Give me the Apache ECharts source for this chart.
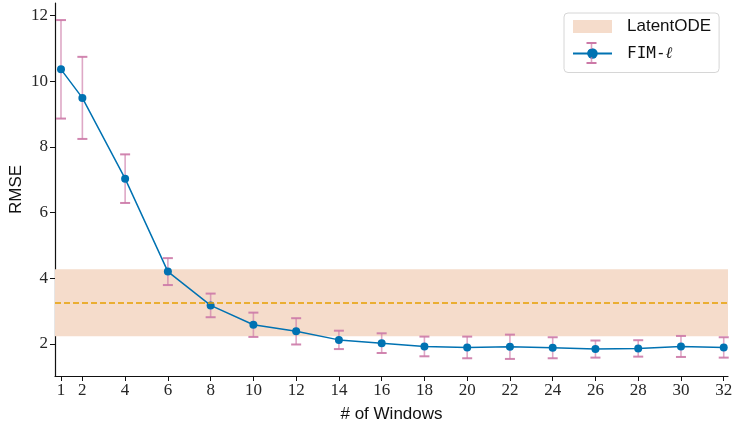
<!DOCTYPE html>
<html>
<head>
<meta charset="utf-8">
<script src="https://cdn.jsdelivr.net/npm/echarts@6/dist/echarts.min.js"></script>
<style>
html,body{margin:0;padding:0;background:#fff;}
#chart{width:733px;height:423px;}
</style>
</head>
<body>
<div id="chart"></div>
<script>
// ---- data ----
const windows = [1, 2, 4, 6, 8, 10, 12, 14, 16, 18, 20, 22, 24, 26, 28, 30, 32];
const fimMean = [10.36, 9.49, 7.03, 4.20, 3.17, 2.58, 2.38, 2.12, 2.02, 1.92, 1.89, 1.91, 1.88, 1.84, 1.86, 1.92, 1.89];
const fimStd  = [1.50, 1.25, 0.74, 0.41, 0.36, 0.37, 0.40, 0.28, 0.30, 0.30, 0.33, 0.37, 0.32, 0.26, 0.25, 0.32, 0.31];
const latentMean = 3.25;
const latentStd = 1.02;
const xTicks = [1, 2, 4, 6, 8, 10, 12, 14, 16, 18, 20, 22, 24, 26, 28, 30, 32];
const yTicks = [2, 4, 6, 8, 10, 12];
const seriesNames = ['LatentODE', 'FIM-\u2113'];

const blue = '#0072B2';
const pink = '#CC79A7';
const peach = '#F5DCCB';
const orange = '#E69F00';

const lineData = windows.map((w, i) => [w, fimMean[i]]);
const errData = windows.map((w, i) => [w, fimMean[i] - fimStd[i], fimMean[i] + fimStd[i]]);

const chart = echarts.init(document.getElementById('chart'), null, {renderer: 'canvas'});

const tickFont = {fontFamily: 'Liberation Serif', fontSize: 17, color: '#262626'};

chart.setOption({
  animation: false,
  backgroundColor: '#fff',
  grid: {left: 55, right: 5, top: 3, bottom: 47, containLabel: false, outerBoundsMode: 'none'},
  xAxis: {
    type: 'value', min: 0.72, max: 32.2,
    name: '# of Windows', nameLocation: 'middle', nameGap: 30, nameMoveOverlap: false,
    nameTextStyle: {fontFamily: 'Liberation Sans', fontSize: 17, color: '#111'},
    axisLine: {show: true, onZero: false, lineStyle: {color: '#111', width: 1.2}},
    axisTick: {show: true, length: 5, lineStyle: {color: '#111', width: 1}, customValues: xTicks},
    axisLabel: Object.assign({margin: 6, customValues: xTicks}, tickFont),
    splitLine: {show: false}
  },
  yAxis: {
    type: 'value', min: 1.02, max: 12.38,
    name: 'RMSE', nameLocation: 'middle', nameGap: 30, nameRotate: 90, nameMoveOverlap: false,
    nameTextStyle: {fontFamily: 'Liberation Sans', fontSize: 17, color: '#111'},
    axisLine: {show: true, onZero: false, lineStyle: {color: '#111', width: 1.2}},
    axisTick: {show: true, length: 5, lineStyle: {color: '#111', width: 1}, customValues: yTicks},
    axisLabel: Object.assign({margin: 7, customValues: yTicks}, tickFont),
    splitLine: {show: false}
  },
  legend: {
    orient: 'vertical', left: 564, top: 13,
    backgroundColor: '#fff', borderColor: '#d6d6d6', borderWidth: 1, borderRadius: 4,
    padding: [5, 8, 11, 8], itemGap: 10.5, itemWidth: 39, itemHeight: 13,
    selectedMode: false,
    data: [
      {name: seriesNames[0], icon: 'rect', itemStyle: {color: peach}},
      {name: seriesNames[1]}
    ],
    formatter: function (name) {
      if (name === seriesNames[1]) return '{m|FIM-}{l|\u2113}';
      return '{s|' + name + '}';
    },
    textStyle: {
      padding: [0, 0, 0, 10],
      rich: {
        s: {fontFamily: 'Liberation Sans', fontSize: 17, color: '#111'},
        m: {fontFamily: 'DejaVu Sans Mono', fontSize: 16, color: '#111'},
        l: {fontFamily: 'DejaVu Serif', fontStyle: 'italic', fontSize: 16, color: '#111'}
      }
    }
  },
  series: [
    {
      name: seriesNames[0], type: 'custom', data: [],
      itemStyle: {color: peach},
      renderItem: function () { return null; }
    },
    {
      name: 'errorbars', type: 'custom', z: 2,
      data: errData,
      encode: {x: 0, y: [1, 2]},
      renderItem: function (params, api) {
        const x = api.value(0);
        const top = api.coord([x, api.value(2)]);
        const bot = api.coord([x, api.value(1)]);
        const hw = 5;
        const st = {stroke: pink, lineWidth: 2, opacity: 0.9};
        return {
          type: 'group',
          children: [
            {type: 'line', shape: {x1: top[0], y1: top[1], x2: bot[0], y2: bot[1]}, style: {stroke: pink, lineWidth: 1.6, opacity: 0.65}},
            {type: 'line', shape: {x1: top[0] - hw, y1: top[1], x2: top[0] + hw, y2: top[1]}, style: st},
            {type: 'line', shape: {x1: bot[0] - hw, y1: bot[1], x2: bot[0] + hw, y2: bot[1]}, style: st}
          ]
        };
      },
      silent: true
    },
    {
      name: seriesNames[1], type: 'line', z: 3,
      data: lineData,
      symbol: 'circle', symbolSize: 8,
      lineStyle: {color: blue, width: 1.5},
      itemStyle: {color: blue},
      markArea: {
        silent: true,
        itemStyle: {color: peach},
        data: [[{yAxis: latentMean - latentStd}, {yAxis: latentMean + latentStd}]]
      },
      markLine: {
        silent: true, symbol: 'none', label: {show: false},
        lineStyle: {color: orange, type: [6, 3], width: 1.5},
        data: [{yAxis: latentMean}]
      }
    }
  ],
  graphic: {
    elements: [
      {type: 'line', z: 100, shape: {x1: 591.5, y1: 43, x2: 591.5, y2: 63}, style: {stroke: pink, lineWidth: 1.6, opacity: 0.7}},
      {type: 'line', z: 100, shape: {x1: 586.5, y1: 43, x2: 596.5, y2: 43}, style: {stroke: pink, lineWidth: 2}},
      {type: 'line', z: 100, shape: {x1: 586.5, y1: 63, x2: 596.5, y2: 63}, style: {stroke: pink, lineWidth: 2}},
      {type: 'circle', z: 101, shape: {cx: 591.5, cy: 53, r: 4}, style: {fill: blue}}
    ]
  }
});
</script>
</body>
</html>
